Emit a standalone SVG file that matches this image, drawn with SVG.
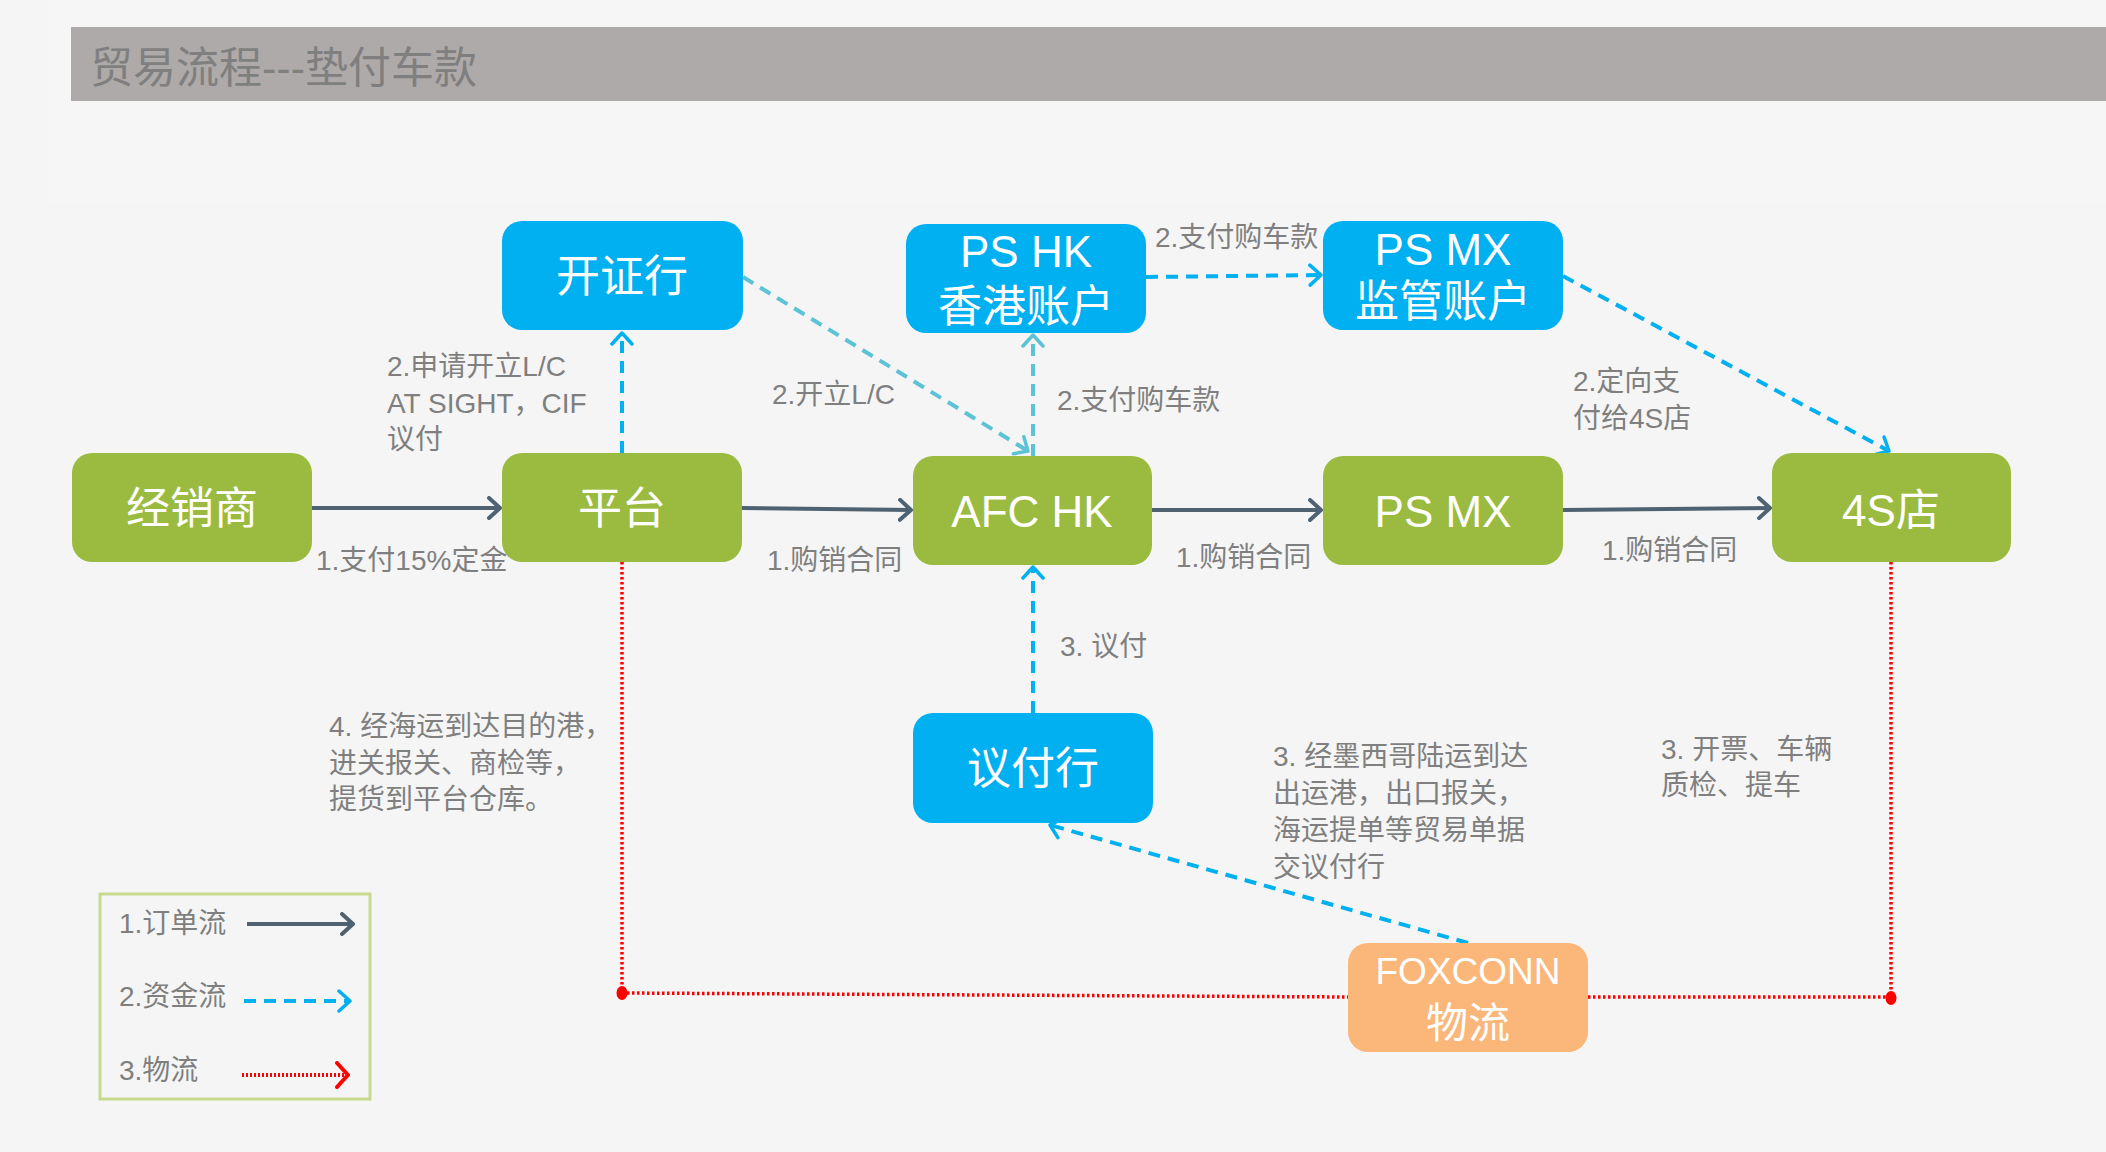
<svg xmlns="http://www.w3.org/2000/svg" width="2106" height="1152" viewBox="0 0 2106 1152">
  <defs>
    <marker id="arSlate" markerUnits="userSpaceOnUse" markerWidth="16" markerHeight="24" viewBox="0 0 16 24" refX="13" refY="12" orient="auto">
      <path d="M2,2 L13,12 L2,22" fill="none" stroke="#4f6271" stroke-width="4" stroke-linecap="round" stroke-linejoin="round"/>
    </marker>
    <marker id="arBlue" markerUnits="userSpaceOnUse" markerWidth="16" markerHeight="24" viewBox="0 0 16 24" refX="13" refY="12" orient="auto">
      <path d="M2,2 L13,12 L2,22" fill="none" stroke="#00b0f0" stroke-width="3.5" stroke-linecap="round" stroke-linejoin="round"/>
    </marker>
    <marker id="arTeal" markerUnits="userSpaceOnUse" markerWidth="16" markerHeight="24" viewBox="0 0 16 24" refX="13" refY="12" orient="auto">
      <path d="M2,2 L13,12 L2,22" fill="none" stroke="#5cc3d6" stroke-width="3.5" stroke-linecap="round" stroke-linejoin="round"/>
    </marker>
    <marker id="arRed" markerUnits="userSpaceOnUse" markerWidth="16" markerHeight="28" viewBox="0 0 16 28" refX="13" refY="14" orient="auto">
      <path d="M2,2 L13,14 L2,26" fill="none" stroke="#ff0000" stroke-width="4" stroke-linecap="round" stroke-linejoin="round"/>
    </marker>
  </defs>
  <style>
    text { font-family: "Liberation Sans", "Noto Sans CJK SC", sans-serif; }
    .node text { fill: #ffffff; font-size: 44px; text-anchor: middle; }
    .node text.fx { font-size: 37px; }
    .node text.fx2 { font-size: 42px; }
    .green { fill: #9bbb40; }
    .blue { fill: #00b0f0; }
    .orange { fill: #fbb67a; }
    .lbl { fill: #7f7f7f; font-size: 28px; }
    .order { stroke: #4f6271; stroke-width: 4; fill: none; marker-end: url(#arSlate); }
    .money { stroke: #00b0f0; stroke-width: 4; fill: none; stroke-dasharray: 12 8; marker-end: url(#arBlue); }
    .moneyT { stroke: #5cc3d6; stroke-width: 4; fill: none; stroke-dasharray: 12 8; marker-end: url(#arTeal); }
    .logi { stroke: #ff0000; stroke-width: 3.5; fill: none; stroke-dasharray: 2.5 2.5; }
  </style>

  <!-- background -->
  <rect x="0" y="0" width="2106" height="1152" fill="#f5f5f5"/>
  <rect x="48" y="0" width="2058" height="205" fill="#f6f6f6"/>

  <!-- title bar -->
  <g id="title">
    <rect x="71" y="27" width="2035" height="74" fill="#aeaaa9"/>
    <text x="90" y="83" font-size="43" fill="#7f7f7f">贸易流程---垫付车款</text>
  </g>

  <!-- connectors -->
  <g id="connectors">
    <!-- order flow -->
    <path class="order" d="M312,508 L500,508"/>
    <path class="order" d="M742,508 L911,510"/>
    <path class="order" d="M1152,510 L1321,510"/>
    <path class="order" d="M1563,510 L1770,508"/>
    <!-- money flow -->
    <path class="money" d="M622,453 L622,333"/>
    <path class="moneyT" d="M743,277 L1028,451"/>
    <path class="moneyT" d="M1033,456 L1033,335"/>
    <path class="money" d="M1146,277 L1321,275"/>
    <path class="money" d="M1563,276 L1889,451"/>
    <path class="money" d="M1033,713 L1033,567"/>
    <path class="money" d="M1468,943 L1050,825"/>
    <!-- logistics -->
    <path class="logi" d="M622,562 L622,993"/>
    <path class="logi" d="M622,993 L1348,997"/>
    <path class="logi" d="M1588,997 L1891,997"/>
    <path class="logi" d="M1891,562 L1891,997"/>
    <ellipse cx="622" cy="993" rx="5.5" ry="7" fill="#ff0000"/>
    <ellipse cx="1891" cy="998" rx="5.5" ry="7" fill="#ff0000"/>
  </g>

  <!-- nodes -->
  <g id="node-kaizhenghang" class="node">
    <rect class="blue" x="502" y="221" width="241" height="109" rx="20"/>
    <text x="622" y="292">开证行</text>
  </g>
  <g id="node-pshk" class="node">
    <rect class="blue" x="906" y="224" width="240" height="109" rx="20"/>
    <text x="1026" y="267">PS HK</text>
    <text x="1026" y="322">香港账户</text>
  </g>
  <g id="node-psmx-account" class="node">
    <rect class="blue" x="1323" y="221" width="240" height="109" rx="20"/>
    <text x="1443" y="265">PS MX</text>
    <text x="1443" y="317">监管账户</text>
  </g>
  <g id="node-dealer" class="node">
    <rect class="green" x="72" y="453" width="240" height="109" rx="20"/>
    <text x="192" y="524">经销商</text>
  </g>
  <g id="node-platform" class="node">
    <rect class="green" x="502" y="453" width="240" height="109" rx="20"/>
    <text x="622" y="524">平台</text>
  </g>
  <g id="node-afchk" class="node">
    <rect class="green" x="913" y="456" width="239" height="109" rx="20"/>
    <text x="1032" y="527">AFC HK</text>
  </g>
  <g id="node-psmx" class="node">
    <rect class="green" x="1323" y="456" width="240" height="109" rx="20"/>
    <text x="1443" y="527">PS MX</text>
  </g>
  <g id="node-4s" class="node">
    <rect class="green" x="1772" y="453" width="239" height="109" rx="20"/>
    <text x="1891" y="526">4S店</text>
  </g>
  <g id="node-yifuhang" class="node">
    <rect class="blue" x="913" y="713" width="240" height="110" rx="20"/>
    <text x="1033" y="784">议付行</text>
  </g>
  <g id="node-foxconn" class="node">
    <rect class="orange" x="1348" y="943" width="240" height="109" rx="20"/>
    <text class="fx" x="1468" y="984">FOXCONN</text>
    <text class="fx2" x="1468" y="1038">物流</text>
  </g>

  <!-- labels -->
  <g id="labels">
    <text class="lbl" x="316" y="570">1.支付15%定金</text>
    <text class="lbl" x="767" y="570">1.购销合同</text>
    <text class="lbl" x="1176" y="567">1.购销合同</text>
    <text class="lbl" x="1602" y="560">1.购销合同</text>
    <text class="lbl" x="387" y="376">2.申请开立L/C</text>
    <text class="lbl" x="387" y="413">AT SIGHT，CIF</text>
    <text class="lbl" x="387" y="449">议付</text>
    <text class="lbl" x="772" y="404">2.开立L/C</text>
    <text class="lbl" x="1057" y="410">2.支付购车款</text>
    <text class="lbl" x="1155" y="247">2.支付购车款</text>
    <text class="lbl" x="1573" y="391">2.定向支</text>
    <text class="lbl" x="1573" y="428">付给4S店</text>
    <text class="lbl" x="1060" y="656">3. 议付</text>
    <text class="lbl" x="329" y="736">4. 经海运到达目的港，</text>
    <text class="lbl" x="329" y="773">进关报关、商检等，</text>
    <text class="lbl" x="329" y="809">提货到平台仓库。</text>
    <text class="lbl" x="1273" y="766">3. 经墨西哥陆运到达</text>
    <text class="lbl" x="1273" y="803">出运港，出口报关，</text>
    <text class="lbl" x="1273" y="840">海运提单等贸易单据</text>
    <text class="lbl" x="1273" y="877">交议付行</text>
    <text class="lbl" x="1661" y="759">3. 开票、车辆</text>
    <text class="lbl" x="1661" y="795">质检、提车</text>
  </g>

  <!-- legend -->
  <g id="legend">
    <rect x="100" y="894" width="270" height="205" fill="none" stroke="#c6d98f" stroke-width="3"/>
    <text class="lbl" x="119" y="933">1.订单流</text>
    <path class="order" d="M247,924 L353,924"/>
    <text class="lbl" x="119" y="1006">2.资金流</text>
    <path class="money" d="M244,1001 L350,1001"/>
    <text class="lbl" x="119" y="1080">3.物流</text>
    <path d="M242,1075 L348,1075" stroke="#ff0000" stroke-width="4" fill="none" stroke-dasharray="2 2" marker-end="url(#arRed)"/>
  </g>
</svg>
